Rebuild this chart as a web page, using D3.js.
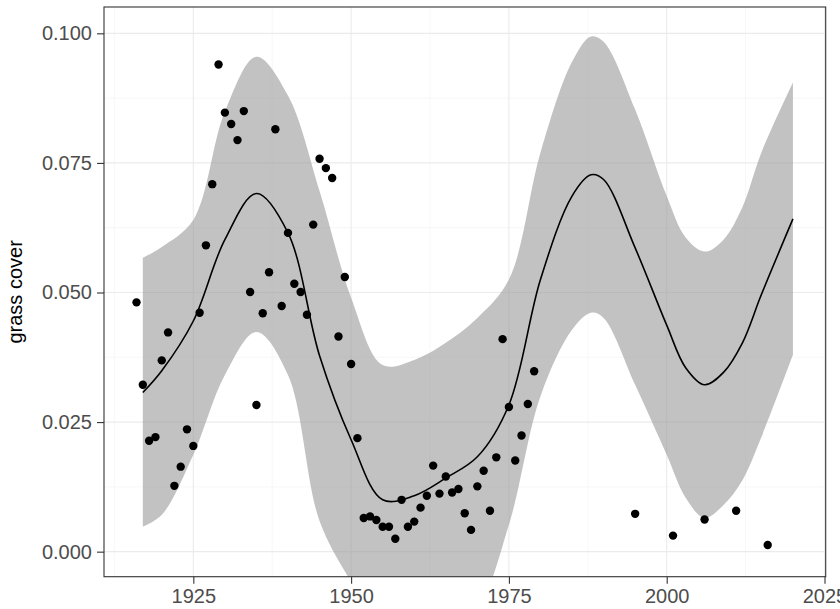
<!DOCTYPE html>

<head>
    <title>grass cover</title>
    <meta charset="utf-8" />
</head>

<style>
    body {
        margin: 0;
        background-color: #ffffff;
    }

    text {
        font-family: "Liberation Sans", Arial, sans-serif;
    }

    .grid-major {
        stroke: #ebebeb;
        stroke-width: 1.1px;
    }

    .grid-minor {
        stroke: #f2f2f2;
        stroke-width: 0.6px;
    }
</style>

<body>
    <svg id="chart" width="840" height="609"></svg>
    <script src="https://d3js.org/d3.v7.min.js"></script>

    <script>
        // observed points
        var years = [1916, 1917, 1918, 1919, 1920, 1921, 1922, 1923, 1924, 1925,
            1926, 1927, 1928, 1929, 1930, 1931, 1932, 1933, 1934, 1935,
            1936, 1937, 1938, 1939, 1940, 1941, 1942, 1943, 1944, 1945,
            1946, 1947, 1948, 1949, 1950, 1951, 1952, 1953, 1954, 1955,
            1956, 1957, 1958, 1959, 1960, 1961, 1962, 1963, 1964, 1965,
            1966, 1967, 1968, 1969, 1970, 1971, 1972, 1973, 1974, 1975,
            1976, 1977, 1978, 1979, 1995, 2001, 2006, 2011, 2016];

        var cover = [0.0481, 0.0322, 0.0214, 0.0221, 0.0369, 0.0423, 0.0127, 0.0164, 0.0236, 0.0204,
            0.0461, 0.0591, 0.0709, 0.0940, 0.0847, 0.0825, 0.0794, 0.0850, 0.0501, 0.0283,
            0.0460, 0.0539, 0.0815, 0.0474, 0.0615, 0.0517, 0.0501, 0.0457, 0.0631, 0.0758,
            0.0740, 0.0721, 0.0415, 0.0530, 0.0362, 0.0219, 0.0065, 0.0068, 0.0061, 0.0048,
            0.0048, 0.0025, 0.0100, 0.0048, 0.0058, 0.0085, 0.0108, 0.0166, 0.0112, 0.0145,
            0.0114, 0.0121, 0.0074, 0.0042, 0.0126, 0.0156, 0.0079, 0.0182, 0.0410, 0.0279,
            0.0176, 0.0224, 0.0285, 0.0348, 0.0073, 0.0031, 0.0062, 0.0079, 0.0013];

        // smoother with confidence band
        var fitYears = [1917, 1920, 1925, 1930, 1935, 1940, 1945, 1950, 1955, 1960,
            1965, 1970, 1975, 1980, 1985, 1988, 1990, 1995, 2000, 2003,
            2006, 2009, 2012, 2015, 2020];
        var fitLine = [0.0307, 0.0349, 0.0445, 0.0602, 0.0691, 0.0615, 0.0378, 0.0216, 0.0100, 0.0108,
            0.0142, 0.0183, 0.0283, 0.0525, 0.0686, 0.0727, 0.0718, 0.0586, 0.0437, 0.0355,
            0.0322, 0.0346, 0.0403, 0.0496, 0.0642];
        var fitUpper = [0.0567, 0.0588, 0.0640, 0.0849, 0.0955, 0.0880, 0.0696, 0.0490, 0.0360, 0.0370,
            0.0403, 0.0451, 0.0525, 0.0770, 0.0945, 0.0994, 0.0984, 0.0853, 0.0686, 0.0606,
            0.0579, 0.0602, 0.0665, 0.0770, 0.0905];
        var fitLower = [0.0048, 0.0071, 0.0187, 0.0341, 0.0424, 0.0341, 0.0059, -0.0059, -0.0161, -0.0155,
            -0.0135, -0.0105, 0.0052, 0.0300, 0.0428, 0.0461, 0.0451, 0.0322, 0.0187, 0.0104,
            0.0065, 0.0090, 0.0138, 0.0221, 0.0380];

        var xTicks = [1925, 1950, 1975, 2000, 2025];
        var xMinor = [1912.5, 1937.5, 1962.5, 1987.5, 2012.5];
        var yTicks = [0, 0.025, 0.05, 0.075, 0.1];
        var yMinor = [0.0125, 0.0375, 0.0625, 0.0875];

        var svg = d3.select("#chart");

        var panel = {
            left: 104,
            right: 825.7,
            top: 7,
            bottom: 576.7
        };

        var x = d3.scaleLinear()
            .domain([1910.85, 2025.19])
            .range([panel.left, panel.right]);

        var y = d3.scaleLinear()
            .domain([-0.00483, 0.10508])
            .range([panel.bottom, panel.top]);

        svg.append("defs").append("clipPath")
            .attr("id", "clip")
            .append("rect")
            .attr("x", panel.left)
            .attr("y", panel.top)
            .attr("width", panel.right - panel.left)
            .attr("height", panel.bottom - panel.top);

        // grid
        var grid = svg.append("g");

        grid.selectAll(".vminor").data(xMinor).enter().append("line")
            .attr("class", "grid-minor")
            .attr("x1", function(d) { return x(d); })
            .attr("x2", function(d) { return x(d); })
            .attr("y1", panel.top)
            .attr("y2", panel.bottom);

        grid.selectAll(".hminor").data(yMinor).enter().append("line")
            .attr("class", "grid-minor")
            .attr("x1", panel.left)
            .attr("x2", panel.right)
            .attr("y1", function(d) { return y(d); })
            .attr("y2", function(d) { return y(d); });

        grid.selectAll(".vmajor").data(xTicks).enter().append("line")
            .attr("class", "grid-major")
            .attr("x1", function(d) { return x(d); })
            .attr("x2", function(d) { return x(d); })
            .attr("y1", panel.top)
            .attr("y2", panel.bottom);

        grid.selectAll(".hmajor").data(yTicks).enter().append("line")
            .attr("class", "grid-major")
            .attr("x1", panel.left)
            .attr("x2", panel.right)
            .attr("y1", function(d) { return y(d); })
            .attr("y2", function(d) { return y(d); });

        var fit = fitYears.map(function(d, i) {
            return { year: d, fit: fitLine[i], hi: fitUpper[i], lo: fitLower[i] };
        });

        var plot = svg.append("g").attr("clip-path", "url(#clip)");

        // confidence band
        var band = d3.area()
            .curve(d3.curveCatmullRom.alpha(0.5))
            .x(function(d) { return x(d.year); })
            .y0(function(d) { return y(d.lo); })
            .y1(function(d) { return y(d.hi); });

        plot.append("path")
            .datum(fit)
            .attr("d", band)
            .attr("fill", "#999999")
            .attr("fill-opacity", 0.6);

        // points
        plot.selectAll("circle")
            .data(years)
            .enter().append("circle")
            .attr("cx", function(d) { return x(d); })
            .attr("cy", function(d, i) { return y(cover[i]); })
            .attr("r", 4.2)
            .attr("fill", "#000000");

        // smooth line
        var line = d3.line()
            .curve(d3.curveCatmullRom.alpha(0.5))
            .x(function(d) { return x(d.year); })
            .y(function(d) { return y(d.fit); });

        plot.append("path")
            .datum(fit)
            .attr("d", line)
            .attr("fill", "none")
            .attr("stroke", "#000000")
            .attr("stroke-width", 1.6);

        // axes
        var xAxis = d3.axisBottom(x)
            .tickValues(xTicks)
            .tickSize(7)
            .tickPadding(5)
            .tickFormat(d3.format("d"));

        var yAxis = d3.axisLeft(y)
            .tickValues(yTicks)
            .tickSize(7)
            .tickPadding(5)
            .tickFormat(d3.format(".3f"));

        var gx = svg.append("g")
            .attr("transform", "translate(0," + panel.bottom + ")")
            .call(xAxis);

        var gy = svg.append("g")
            .attr("transform", "translate(" + panel.left + ",0)")
            .call(yAxis);

        [gx, gy].forEach(function(g) {
            g.select(".domain").remove();
            g.selectAll(".tick line").attr("stroke", "#333333").attr("stroke-width", 1.1);
            g.selectAll(".tick text")
                .attr("fill", "#4d4d4d")
                .attr("font-size", "20px")
                .style("font-family", "'Liberation Sans', Arial, sans-serif");
        });

        // panel border
        svg.append("rect")
            .attr("x", panel.left)
            .attr("y", panel.top)
            .attr("width", panel.right - panel.left)
            .attr("height", panel.bottom - panel.top)
            .attr("fill", "none")
            .attr("stroke", "#333333")
            .attr("stroke-width", 1.1);

        svg.append("text")
            .attr("transform", "translate(22," + ((panel.top + panel.bottom) / 2) + ") rotate(-90)")
            .attr("text-anchor", "middle")
            .attr("font-size", "20px")
            .attr("fill", "#000000")
            .text("grass cover");
    </script>
</body>
